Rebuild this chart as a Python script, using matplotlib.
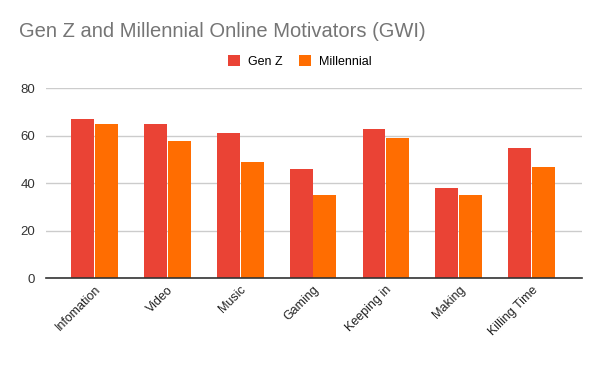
import numpy as np
import matplotlib
matplotlib.use("Agg")
import matplotlib.pyplot as plt

plt.rcParams['font.family'] = ['Liberation Sans', 'DejaVu Sans']

categories = ["Infomation", "Video", "Music", "Gaming", "Keeping in", "Making", "Killing Time"]
gen_z = [67, 65, 61, 46, 63, 38, 55]
millennial = [65, 58, 49, 35, 59, 35, 47]
y_ticks = [0, 20, 40, 60, 80]

fig = plt.figure(figsize=(6, 3.71), dpi=100)
ax = fig.add_axes([0.077, 0.25, 0.893, 0.512])

x = np.arange(len(categories))
w = 0.315
ax.bar(x - w / 2 - 0.006, gen_z, width=w, color="#ea4335", label="Gen Z", zorder=3)
ax.bar(x + w / 2 + 0.006, millennial, width=w, color="#ff6d01", label="Millennial", zorder=3)

ax.set_xlim(-0.66, 6.69)
ax.set_ylim(0, 80)
ax.set_yticks(y_ticks)
ax.set_yticklabels([str(v) for v in y_ticks], fontsize=9.5, color="#333333")
ax.set_xticks(x)
ax.set_xticklabels(categories, rotation=45, ha="right", rotation_mode="anchor",
                   fontsize=9, color="#222222")
ax.tick_params(length=0)
ax.tick_params(axis='x', pad=4)
ax.tick_params(axis='y', pad=8)
ax.grid(axis='y', color="#cccccc", linewidth=1, zorder=0)
for s in ["top", "right", "left"]:
    ax.spines[s].set_visible(False)
ax.spines["bottom"].set_color("#333333")
ax.spines["bottom"].set_linewidth(1.2)
ax.spines["bottom"].set_zorder(4)

fig.text(0.032, 0.915, "Gen Z and Millennial Online Motivators (GWI)",
         fontsize=14.5, color="#757575", va="center")
fig.legend(loc="center", bbox_to_anchor=(0.5, 0.835), ncol=2, frameon=False,
           fontsize=9, handlelength=0.95, handleheight=0.95, handletextpad=0.65,
           columnspacing=1.3)

fig.savefig("out.png", dpi=100)
